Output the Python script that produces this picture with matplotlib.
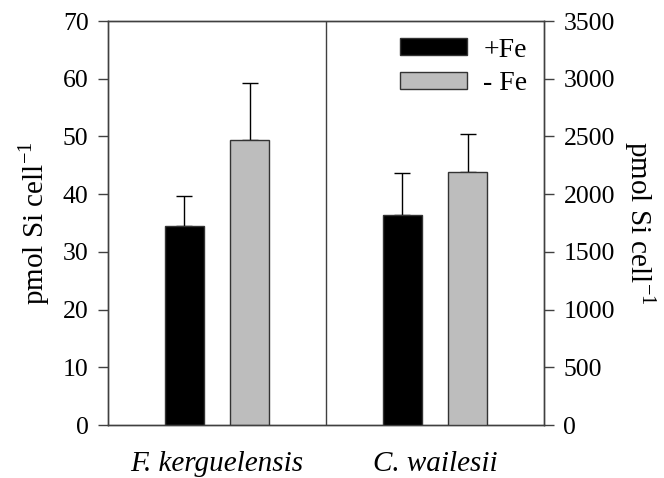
import matplotlib
matplotlib.use("Agg")
import matplotlib.pyplot as plt

species = ["F. kerguelensis", "C. wailesii"]
labels = ["+Fe", "- Fe"]
fk_means = [34.5, 49.4]
fk_err = [5.1, 9.9]
cw_means = [1815, 2190]
cw_err = [365, 328]
colors = ["#000000", "#bdbdbd"]

plt.rcParams['font.family'] = ['Liberation Serif', 'DejaVu Serif']
fig = plt.figure(figsize=(6.64, 4.78), dpi=100)
ax = fig.add_axes([108/664, 1-425/478, 436/664, 404/478])
ax2 = ax.twinx()

offs = [-0.15, 0.15]
w = 0.18
spc = '#404040'
for i in range(2):
    ax.bar(0.5 + offs[i], fk_means[i], w, color=colors[i], edgecolor='#333333', linewidth=1,
           label=labels[i], zorder=3)
    ax.errorbar(0.5 + offs[i], fk_means[i], yerr=[[0], [fk_err[i]]], fmt='none',
                ecolor='black', elinewidth=1, capsize=6, capthick=1, zorder=2)
    ax2.bar(1.5 + offs[i], cw_means[i], w, color=colors[i], edgecolor='#333333', linewidth=1,
            zorder=3)
    ax2.errorbar(1.5 + offs[i], cw_means[i], yerr=[[0], [cw_err[i]]], fmt='none',
                 ecolor='black', elinewidth=1, capsize=6, capthick=1, zorder=2)

ax.set_xlim(0, 2)
ax.set_ylim(0, 70)
ax2.set_ylim(0, 3500)
ax.set_yticks(range(0, 71, 10))
ax2.set_yticks(range(0, 3501, 500))
ax.axvline(1.0, color=spc, linewidth=1)
ax.set_xticks([0.5, 1.5])
ax.set_xticklabels(species, style='italic', fontsize=21)
ax.tick_params(axis='x', length=0, pad=19)
ax.tick_params(axis='y', direction='out', length=7, labelsize=18.5, color=spc, width=1, pad=7)
ax2.tick_params(axis='y', direction='out', length=7, labelsize=18.5, color=spc, width=1, pad=7)
for a in (ax, ax2):
    for s in a.spines.values():
        s.set_color(spc)
        s.set_linewidth(1)

ax.set_ylabel('pmol Si cell$^{\\mathregular{-1}}$', fontsize=21, labelpad=8)
ax2.set_ylabel('pmol Si cell$^{\\mathregular{-1}}$', fontsize=21, rotation=270, labelpad=31)

leg = ax.legend(loc='upper right', frameon=False, fontsize=20, handlelength=2.4,
                handleheight=0.55, borderaxespad=0.2, labelspacing=0.3, handletextpad=0.6)

fig.savefig('out.png', dpi=100)
